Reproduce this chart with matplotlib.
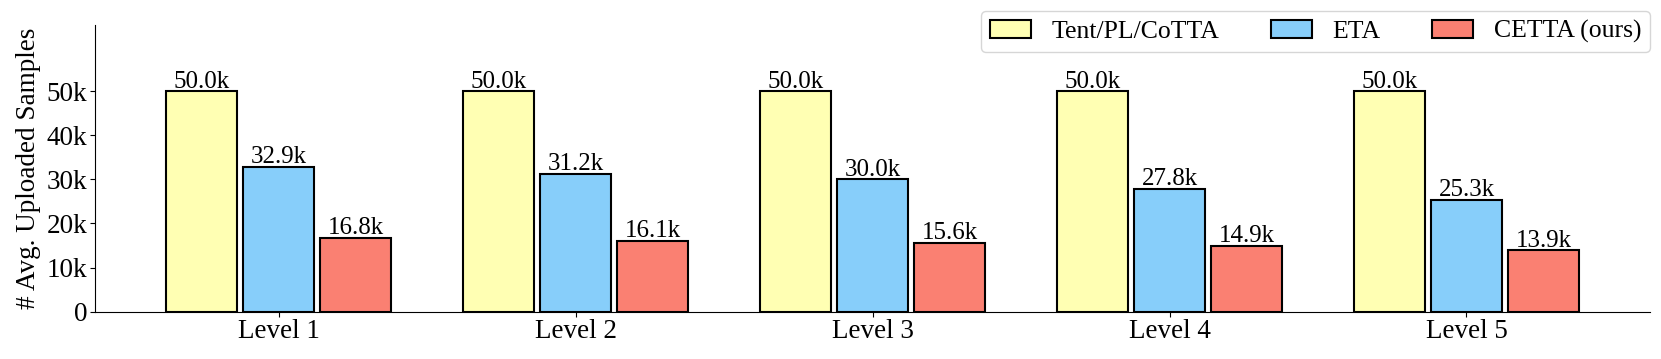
import matplotlib
matplotlib.use("Agg")
import matplotlib.pyplot as plt
import numpy as np
from matplotlib.ticker import FuncFormatter

levels = ["Level 1", "Level 2", "Level 3", "Level 4", "Level 5"]
methods = ["Tent/PL/CoTTA", "ETA", "CETTA (ours)"]
tent_vals = [50000, 50000, 50000, 50000, 50000]
eta_vals = [32900, 31200, 30000, 27800, 25300]
cetta_vals = [16800, 16100, 15600, 14900, 13900]
colors = ["#FFFFB3", "#87CEFA", "#FA8072"]

plt.rcParams['font.family'] = ['Liberation Serif', 'DejaVu Serif']
plt.rcParams['font.size'] = 19

fig = plt.figure(figsize=(16.61, 3.59), dpi=100)
ax = fig.add_axes([0.0572, 0.132, 0.9362, 0.798])

x = np.arange(len(levels))
width = 0.24
offsets = [-0.26, 0.0, 0.26]
for vals, off, col, name in zip([tent_vals, eta_vals, cetta_vals], offsets, colors, methods):
    bars = ax.bar(x + off, vals, width, color=col, edgecolor='black', linewidth=1.5, label=name)
    ax.bar_label(bars, labels=[f"{v/1000:.1f}k" for v in vals], padding=-1, fontsize=18)

ax.set_xticks(x)
ax.set_xticklabels(levels, fontsize=19.5)
ax.set_ylim(0, 65000)
ax.set_yticks([0, 10000, 20000, 30000, 40000, 50000])
ax.yaxis.set_major_formatter(FuncFormatter(lambda v, p: "0" if v == 0 else f"{int(v/1000)}k"))
ax.tick_params(axis='y', labelsize=19.5, pad=2)
ax.tick_params(axis='x', pad=2)
ax.set_ylabel("# Avg. Uploaded Samples", fontsize=19.5, labelpad=4)
ax.spines['top'].set_visible(False)
ax.spines['right'].set_visible(False)
ax.legend(loc='upper right', bbox_to_anchor=(1.0, 1.05), borderaxespad=0, ncol=3,
          fontsize=18.5, columnspacing=2.0, handlelength=1.6, borderpad=0.35)

fig.savefig("out.png", dpi=100)
